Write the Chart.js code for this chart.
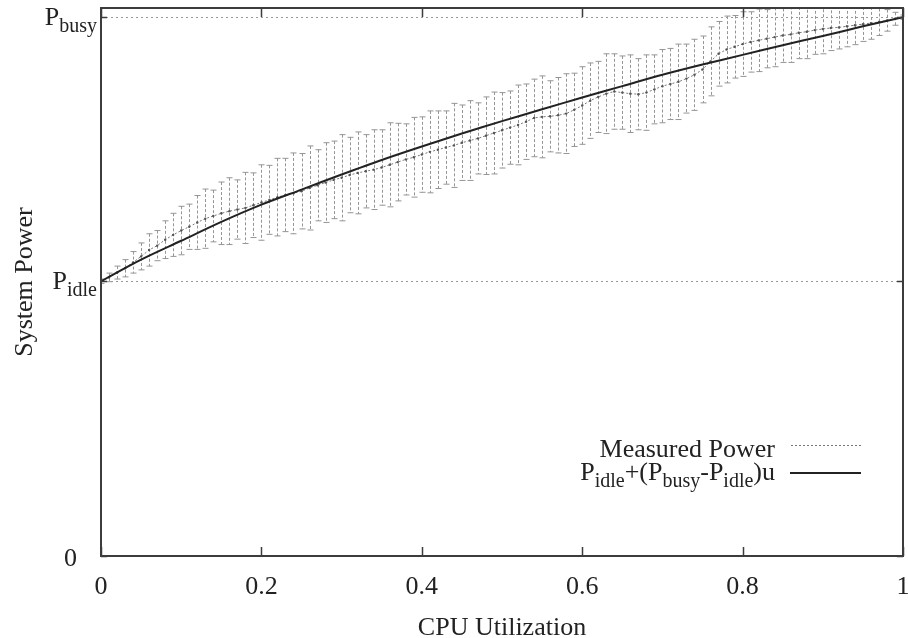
<!DOCTYPE html>
<html>
<head>
<meta charset="utf-8">
<title>System Power vs CPU Utilization</title>
<script src="https://cdn.jsdelivr.net/npm/chart.js@4.4.0/dist/chart.umd.min.js"></script>
<style>
html, body { margin: 0; padding: 0; background: #ffffff; }
#wrap { width: 908px; height: 638px; position: relative; }
</style>
</head>
<body>
<div id="wrap"><canvas id="powerChart"></canvas></div>
<script>
// CPU utilization (x) of each measurement
var utilization = [
  0.00, 0.01, 0.02, 0.03, 0.04, 0.05, 0.06, 0.07, 0.08, 0.09,
  0.10, 0.11, 0.12, 0.13, 0.14, 0.15, 0.16, 0.17, 0.18, 0.19,
  0.20, 0.21, 0.22, 0.23, 0.24, 0.25, 0.26, 0.27, 0.28, 0.29,
  0.30, 0.31, 0.32, 0.33, 0.34, 0.35, 0.36, 0.37, 0.38, 0.39,
  0.40, 0.41, 0.42, 0.43, 0.44, 0.45, 0.46, 0.47, 0.48, 0.49,
  0.50, 0.51, 0.52, 0.53, 0.54, 0.55, 0.56, 0.57, 0.58, 0.59,
  0.60, 0.61, 0.62, 0.63, 0.64, 0.65, 0.66, 0.67, 0.68, 0.69,
  0.70, 0.71, 0.72, 0.73, 0.74, 0.75, 0.76, 0.77, 0.78, 0.79,
  0.80, 0.81, 0.82, 0.83, 0.84, 0.85, 0.86, 0.87, 0.88, 0.89,
  0.90, 0.91, 0.92, 0.93, 0.94, 0.95, 0.96, 0.97, 0.98, 0.99,
  1.00
];

// measured power, as a fraction of P_busy
var measuredPower = [
  0.510, 0.517, 0.526, 0.534, 0.545, 0.556, 0.568, 0.576, 0.587, 0.596,
  0.604, 0.611, 0.619, 0.626, 0.631, 0.636, 0.640, 0.643, 0.646, 0.651,
  0.656, 0.661, 0.666, 0.670, 0.673, 0.677, 0.683, 0.688, 0.693, 0.698,
  0.702, 0.707, 0.711, 0.714, 0.717, 0.721, 0.726, 0.731, 0.736, 0.740,
  0.745, 0.750, 0.754, 0.758, 0.762, 0.767, 0.771, 0.775, 0.780, 0.785,
  0.790, 0.795, 0.800, 0.806, 0.813, 0.815, 0.816, 0.818, 0.821, 0.828,
  0.836, 0.845, 0.852, 0.858, 0.862, 0.860, 0.858, 0.857, 0.860, 0.866,
  0.872, 0.876, 0.880, 0.886, 0.893, 0.903, 0.918, 0.932, 0.940, 0.945,
  0.950, 0.954, 0.957, 0.960, 0.963, 0.966, 0.968, 0.971, 0.973, 0.976,
  0.978, 0.980, 0.981, 0.983, 0.985, 0.987, 0.989, 0.991, 0.994, 0.997,
  1.000
];

// error bar half height for each measurement
var measuredError = [
  0.004, 0.008, 0.012, 0.016, 0.020, 0.025, 0.030, 0.028, 0.035, 0.040,
  0.045, 0.042, 0.050, 0.055, 0.048, 0.058, 0.062, 0.055, 0.066, 0.060,
  0.070, 0.064, 0.072, 0.068, 0.075, 0.070, 0.078, 0.066, 0.074, 0.072,
  0.080, 0.070, 0.076, 0.068, 0.074, 0.070, 0.078, 0.072, 0.066, 0.074,
  0.070, 0.076, 0.072, 0.068, 0.078, 0.070, 0.074, 0.066, 0.072, 0.076,
  0.070, 0.068, 0.074, 0.070, 0.072, 0.076, 0.066, 0.070, 0.074, 0.068,
  0.072, 0.070, 0.066, 0.074, 0.070, 0.068, 0.072, 0.066, 0.070, 0.064,
  0.068, 0.066, 0.070, 0.064, 0.066, 0.062, 0.064, 0.060, 0.062, 0.058,
  0.060, 0.056, 0.058, 0.054, 0.055, 0.050, 0.052, 0.048, 0.050, 0.045,
  0.046, 0.042, 0.040, 0.038, 0.036, 0.032, 0.030, 0.025, 0.020, 0.012,
  0.004
];

// model curve
var modelUtilization = [0, 0.05, 0.1, 0.15, 0.2, 0.25, 0.3, 0.35, 0.4, 0.45, 0.5,
  0.55, 0.6, 0.65, 0.7, 0.75, 0.8, 0.85, 0.9, 0.95, 1];
var modelPower = [0.510, 0.550, 0.585, 0.620, 0.652, 0.680, 0.708, 0.735, 0.760, 0.784, 0.807,
  0.829, 0.851, 0.872, 0.893, 0.912, 0.930, 0.948, 0.965, 0.983, 1.000];

var xTickValues = [0, 0.2, 0.4, 0.6, 0.8, 1];
var xTickLabels = ['0', '0.2', '0.4', '0.6', '0.8', '1'];
var yTickValues = [0, 0.51, 1];
// [text, subscript?]
var yTickLabels = [
  [['0', false]],
  [['P', false], ['idle', true]],
  [['P', false], ['busy', true]]
];
var legendLabels = [
  [['Measured Power', false]],
  [['P', false], ['idle', true], ['+(P', false], ['busy', true], ['-P', false], ['idle', true], [')u', false]]
];

var SERIF = "'Liberation Serif', 'Times New Roman', serif";
var INK = '#222222';

function toPoints(xs, ys) {
  return xs.map(function (x, i) { return { x: x, y: ys[i] }; });
}

function drawSubText(ctx, parts, xRight, baseline) {
  var widths = parts.map(function (p) {
    ctx.font = (p[1] ? '20px ' : '26px ') + SERIF;
    return ctx.measureText(p[0]).width;
  });
  var total = widths.reduce(function (a, b) { return a + b; }, 0);
  var x = xRight - total;
  ctx.textAlign = 'left';
  ctx.textBaseline = 'alphabetic';
  parts.forEach(function (p, i) {
    ctx.font = (p[1] ? '20px ' : '26px ') + SERIF;
    ctx.fillText(p[0], x, baseline + (p[1] ? 7 : 0));
    x += widths[i];
  });
}

var gnuplotLook = {
  id: 'gnuplotLook',
  beforeDatasetsDraw: function (chart) {
    var ctx = chart.ctx, xs = chart.scales.x, ys = chart.scales.y, area = chart.chartArea;
    ctx.save();
    ctx.beginPath();
    ctx.rect(area.left, area.top, area.right - area.left, area.bottom - area.top);
    ctx.clip();
    ctx.strokeStyle = '#959595';
    ctx.lineWidth = 1;
    for (var i = 0; i < utilization.length; i++) {
      var px = Math.round(xs.getPixelForValue(utilization[i])) + 0.5;
      var top = ys.getPixelForValue(measuredPower[i] + measuredError[i]);
      var bot = ys.getPixelForValue(measuredPower[i] - measuredError[i]);
      ctx.setLineDash([3, 2]);
      ctx.beginPath();
      ctx.moveTo(px, top);
      ctx.lineTo(px, bot);
      ctx.stroke();
      ctx.setLineDash([]);
      ctx.beginPath();
      ctx.moveTo(px - 3, top); ctx.lineTo(px + 3, top);
      ctx.moveTo(px - 3, bot); ctx.lineTo(px + 3, bot);
      ctx.stroke();
    }
    ctx.restore();
  },
  afterDatasetsDraw: function (chart) {
    var ctx = chart.ctx, xs = chart.scales.x, ys = chart.scales.y, a = chart.chartArea;
    ctx.save();
    ctx.strokeStyle = '#3c3c3c';
    ctx.lineWidth = 2;
    ctx.strokeRect(a.left, a.top, a.right - a.left, a.bottom - a.top);
    ctx.lineWidth = 1.5;
    ctx.beginPath();
    xTickValues.forEach(function (v) {
      var px = Math.round(xs.getPixelForValue(v)) + 0.5;
      ctx.moveTo(px, a.bottom); ctx.lineTo(px, a.bottom - 9);
      ctx.moveTo(px, a.top); ctx.lineTo(px, a.top + 9);
    });
    yTickValues.forEach(function (v) {
      var py = Math.round(ys.getPixelForValue(v)) + 0.5;
      ctx.moveTo(a.left, py); ctx.lineTo(a.left + 6, py);
      ctx.moveTo(a.right, py); ctx.lineTo(a.right - 6, py);
    });
    ctx.stroke();
    ctx.restore();
  },
  afterDraw: function (chart) {
    var ctx = chart.ctx, ys = chart.scales.y;
    ctx.save();
    ctx.fillStyle = INK;
    yTickValues.forEach(function (v, i) {
      var py = ys.getPixelForValue(v);
      drawSubText(ctx, yTickLabels[i], i === 0 ? 77 : 97, py + (i === 0 ? 10 : 8));
    });
    // legend, bottom right, gnuplot style
    var rows = [457, 480];
    legendLabels.forEach(function (parts, i) {
      drawSubText(ctx, parts, 775, rows[i]);
    });
    ctx.strokeStyle = '#777777';
    ctx.lineWidth = 1;
    ctx.setLineDash([2, 2]);
    ctx.beginPath(); ctx.moveTo(791, 445.5); ctx.lineTo(861, 445.5); ctx.stroke();
    ctx.setLineDash([]);
    ctx.strokeStyle = INK;
    ctx.lineWidth = 2;
    ctx.beginPath(); ctx.moveTo(790, 473); ctx.lineTo(861, 473); ctx.stroke();
    ctx.restore();
  }
};

var config = {
  type: 'line',
  data: {
    datasets: [
      {
        label: 'Pidle+(Pbusy-Pidle)u',
        data: toPoints(modelUtilization, modelPower),
        borderColor: INK,
        borderWidth: 2,
        pointRadius: 0,
        tension: 0.3,
        order: 0
      },
      {
        label: 'Measured Power',
        data: toPoints(utilization, measuredPower),
        borderColor: '#7a7a7a',
        borderWidth: 1,
        borderDash: [2, 2],
        pointRadius: 1.2,
        pointBackgroundColor: '#555555',
        pointBorderWidth: 0,
        order: 1
      }
    ]
  },
  options: {
    responsive: true,
    maintainAspectRatio: false,
    animation: false,
    layout: { padding: { top: 8, right: 5, bottom: 0, left: 0 } },
    plugins: { legend: { display: false }, tooltip: { enabled: false } },
    scales: {
      x: {
        type: 'linear',
        min: 0,
        max: 1,
        grid: { display: false },
        border: { display: false },
        afterBuildTicks: function (s) {
          s.ticks = xTickValues.map(function (v) { return { value: v }; });
        },
        afterFit: function (s) {
          s.height = 82;
          s.paddingLeft = 0;
          s.paddingRight = 0;
        },
        ticks: {
          autoSkip: false,
          maxRotation: 0,
          padding: 8,
          color: INK,
          font: { family: SERIF, size: 26 },
          callback: function (v, i) { return xTickLabels[i]; }
        },
        title: {
          display: true,
          text: 'CPU Utilization',
          color: INK,
          font: { family: SERIF, size: 26 },
          padding: { top: 0, bottom: -6 }
        }
      },
      y: {
        min: 0,
        max: 1.017,
        afterBuildTicks: function (s) {
          s.ticks = yTickValues.map(function (v) { return { value: v }; });
        },
        afterFit: function (s) { s.width = 101; },
        ticks: { display: false },
        border: { display: false, dash: [2, 3] },
        grid: {
          drawTicks: false,
          lineWidth: 1,
          color: function (c) { return c.tick && c.tick.value > 0 ? '#9a9a9a' : 'rgba(0,0,0,0)'; }
        },
        title: {
          display: true,
          text: 'System Power',
          color: INK,
          font: { family: SERIF, size: 26 },
          padding: { top: 10, bottom: 0 }
        }
      }
    }
  },
  plugins: [gnuplotLook]
};

var powerChart = new Chart(document.getElementById('powerChart'), config);
</script>
</body>
</html>
